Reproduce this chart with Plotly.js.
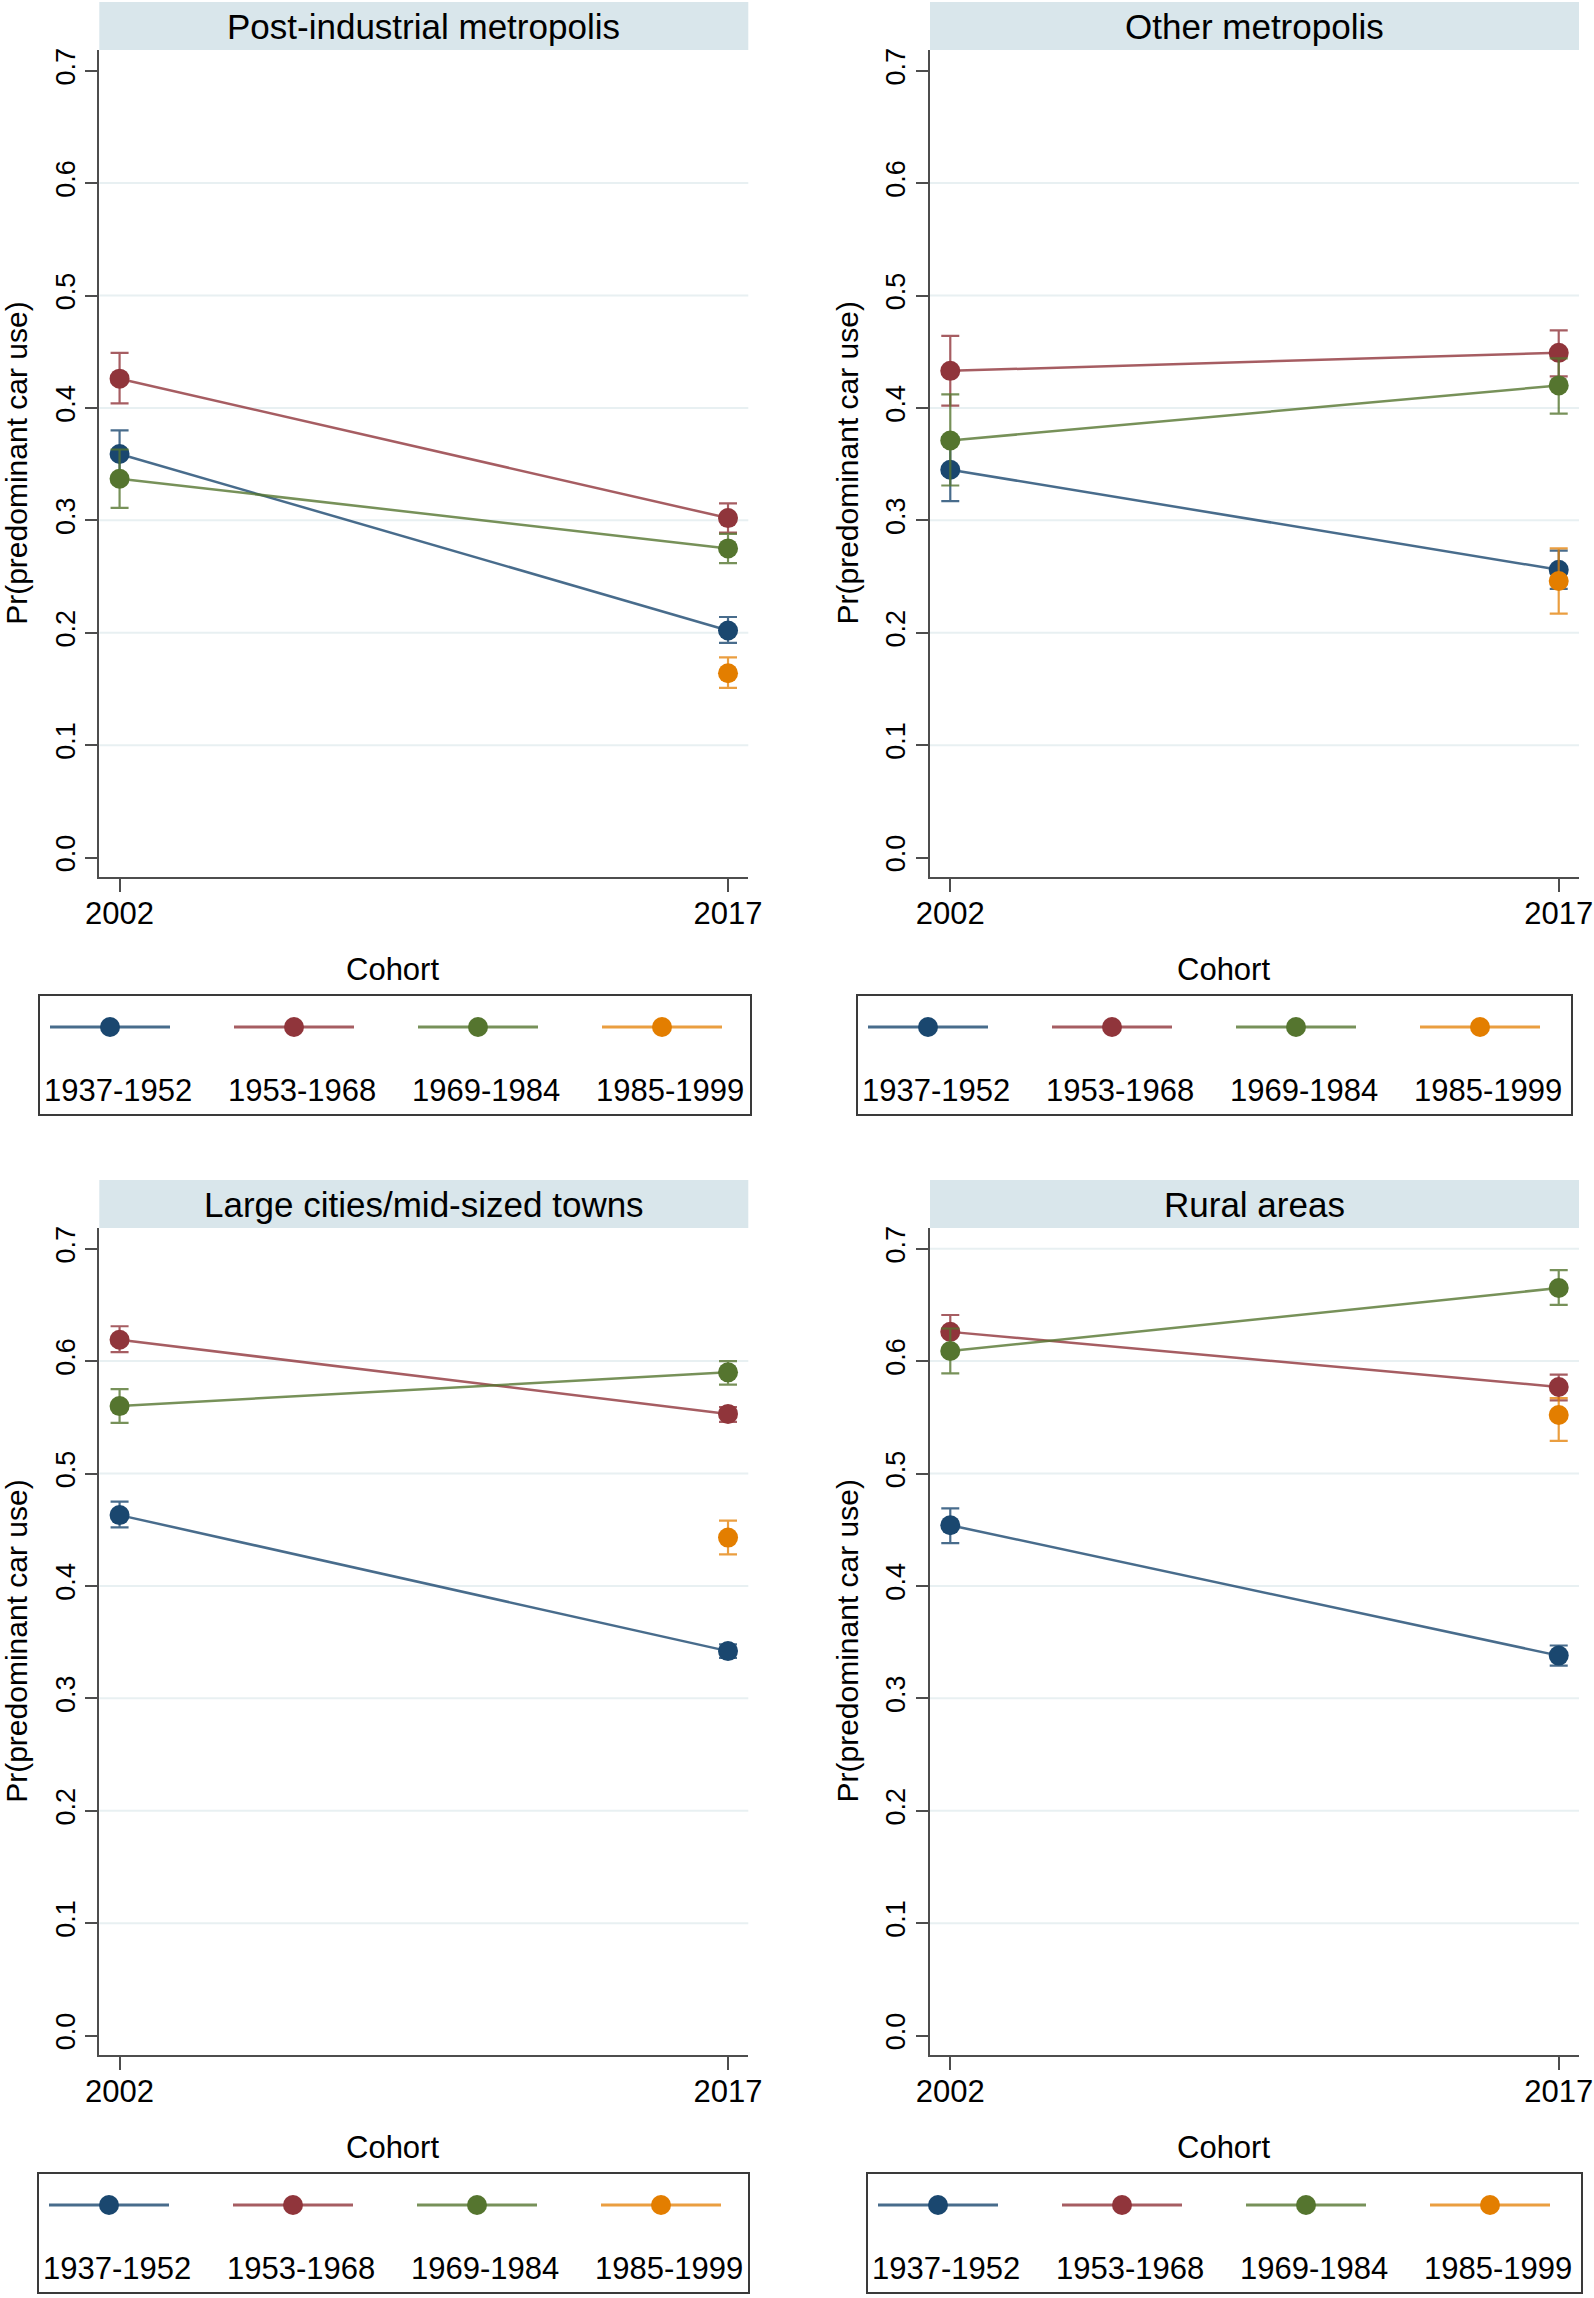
<!DOCTYPE html>
<html>
<head>
<meta charset="utf-8">
<script src="https://cdn.plot.ly/plotly-3.0.1.min.js"></script>
<style>html,body{margin:0;padding:0;background:#fff;}#chart{width:1594px;height:2298px;}</style>
</head>
<body>
<div id="chart"></div>
<script>
// ---------- DATA ----------
const years = [2002, 2017];
const yTickValues = [0, 0.1, 0.2, 0.3, 0.4, 0.5, 0.6, 0.7];
const cohortLabels = ['1937-1952', '1953-1968', '1969-1984', '1985-1999'];
const panelTitles = ['Post-industrial metropolis', 'Other metropolis', 'Large cities/mid-sized towns', 'Rural areas'];
const xTitle = 'Cohort';
const yTitle = 'Pr(predominant car use)';

// estimates [cohort][year]
const postIndEst = [[0.359, 0.202], [0.426, 0.302], [0.337, 0.275], [null, 0.164]];
const postIndLo  = [[0.338, 0.191], [0.404, 0.289], [0.311, 0.262], [null, 0.151]];
const postIndHi  = [[0.380, 0.214], [0.449, 0.315], [0.363, 0.288], [null, 0.178]];

const otherMetEst = [[0.345, 0.256], [0.433, 0.449], [0.371, 0.420], [null, 0.246]];
const otherMetLo  = [[0.317, 0.239], [0.402, 0.428], [0.331, 0.395], [null, 0.217]];
const otherMetHi  = [[0.374, 0.273], [0.464, 0.469], [0.412, 0.444], [null, 0.275]];

const largeEst = [[0.463, 0.342], [0.619, 0.553], [0.560, 0.590], [null, 0.443]];
const largeLo  = [[0.452, 0.336], [0.608, 0.546], [0.545, 0.579], [null, 0.428]];
const largeHi  = [[0.475, 0.348], [0.631, 0.559], [0.575, 0.600], [null, 0.458]];

const ruralEst = [[0.454, 0.338], [0.626, 0.577], [0.609, 0.665], [null, 0.552]];
const ruralLo  = [[0.438, 0.329], [0.611, 0.565], [0.589, 0.650], [null, 0.529]];
const ruralHi  = [[0.469, 0.347], [0.641, 0.588], [0.629, 0.681], [null, 0.567]];

const gridStd = [0.1, 0.2, 0.3, 0.4, 0.5, 0.6];
const gridRural = [0.1, 0.2, 0.3, 0.4, 0.5, 0.6, 0.7];

// ---------- STYLE ----------
const W = 1594, H = 2298;
const FONT = 'Liberation Sans, Arial, Helvetica, sans-serif';
const markerColors = ['#1a476f', '#90353b', '#55752f', '#e37e00'];
const lineColors = ['rgba(26,71,111,0.8)', 'rgba(144,53,59,0.8)', 'rgba(85,117,47,0.8)', 'rgba(227,126,0,0.75)'];
const axisColor = '#4d4d4d';
const gridColor = '#e8f0f2';
const stripColor = '#d9e6eb';

const panelSeries = [
  {est: postIndEst, lo: postIndLo, hi: postIndHi, grid: gridStd},
  {est: otherMetEst, lo: otherMetLo, hi: otherMetHi, grid: gridStd},
  {est: largeEst, lo: largeLo, hi: largeHi, grid: gridStd},
  {est: ruralEst, lo: ruralLo, hi: ruralHi, grid: gridRural}
];

// geometry in pixels
const plotLeft = [99.3, 930, 99.3, 930];
const plotTop = [50, 50, 1228, 1228];
const plotW = 649, plotH = 827;
const legendBox = [[39, 751], [857, 1572], [38, 749], [867, 1582]];

const px = v => v / W;
const py = v => 1 - v / H;

const traces = [];
const shapes = [];
const annotations = [];
const layout = {
  width: W, height: H,
  margin: {l: 0, r: 0, t: 0, b: 0},
  paper_bgcolor: '#fff', plot_bgcolor: '#fff',
  showlegend: false,
  font: {family: FONT, color: '#000'}
};

panelSeries.forEach((p, i) => {
  const s = i === 0 ? '' : String(i + 1);
  const L = plotLeft[i], T = plotTop[i];
  layout['xaxis' + s] = {
    domain: [px(L), px(L + plotW)],
    range: [2001.5, 2017.5],
    anchor: 'y' + s,
    tickvals: years, ticktext: years.map(String),
    showline: true, linecolor: axisColor, linewidth: 2,
    ticks: 'outside', ticklen: 13, tickwidth: 2, tickcolor: axisColor,
    ticklabelstandoff: -5,
    showgrid: false, zeroline: false,
    tickfont: {family: FONT, size: 31, color: '#000'},
    fixedrange: true
  };
  layout['yaxis' + s] = {
    domain: [py(T + plotH), py(T)],
    range: [-0.0173, 0.7184],
    anchor: 'x' + s,
    tickvals: yTickValues, tickformat: '.1f', tickangle: -90,
    showline: true, linecolor: axisColor, linewidth: 2,
    ticks: 'outside', ticklen: 12, tickwidth: 2, tickcolor: axisColor,
    showgrid: false, zeroline: false,
    tickfont: {family: FONT, size: 27, color: '#000'},
    fixedrange: true
  };
  // gridlines
  p.grid.forEach(g => shapes.push({
    type: 'line', layer: 'below',
    xref: 'x' + s + ' domain', x0: 0, x1: 1,
    yref: 'y' + s, y0: g, y1: g,
    line: {color: gridColor, width: 2}
  }));
  // strip header
  shapes.push({type: 'rect', xref: 'paper', yref: 'paper',
    x0: px(L), x1: px(L + plotW), y0: py(T), y1: py(T - 48),
    fillcolor: stripColor, line: {width: 0}, layer: 'below'});
  annotations.push({xref: 'paper', yref: 'paper', x: px(L + plotW / 2), y: py(T - 24),
    text: panelTitles[i], showarrow: false, xanchor: 'center', yanchor: 'middle',
    font: {family: FONT, size: 35, color: '#000'}});
  // axis titles
  annotations.push({xref: 'paper', yref: 'paper', x: px(L - 83), y: py(T + plotH / 2),
    text: yTitle, textangle: -90, showarrow: false, xanchor: 'center', yanchor: 'middle',
    font: {family: FONT, size: 30, color: '#000'}});
  annotations.push({xref: 'paper', yref: 'paper', x: px(L + plotW / 2 - 31), y: py(T + 919),
    text: xTitle, showarrow: false, xanchor: 'center', yanchor: 'middle',
    font: {family: FONT, size: 31, color: '#000'}});
  // data traces
  cohortLabels.forEach((c, k) => {
    const y = p.est[k];
    traces.push({
      type: 'scatter', mode: 'lines+markers',
      x: years, y: y, name: c,
      xaxis: 'x' + s, yaxis: 'y' + s,
      line: {color: lineColors[k], width: 2.5},
      marker: {color: markerColors[k], size: 20},
      error_y: {
        type: 'data', symmetric: false,
        array: y.map((v, j) => v == null ? null : p.hi[k][j] - v),
        arrayminus: y.map((v, j) => v == null ? null : v - p.lo[k][j]),
        color: lineColors[k], thickness: 2.2, width: 9
      },
      hoverinfo: 'skip'
    });
  });
  // legend box
  const [bl, br] = legendBox[i];
  const bt = T + 945, bb = T + 1065;
  shapes.push({type: 'rect', xref: 'paper', yref: 'paper',
    x0: px(bl), x1: px(br), y0: py(bb), y1: py(bt),
    line: {color: '#3a3a3a', width: 2}, fillcolor: 'rgba(0,0,0,0)'});
  cohortLabels.forEach((c, k) => {
    const mx = bl + 71 + 184 * k;
    const my = T + 977;
    shapes.push({type: 'line', xref: 'paper', yref: 'paper',
      x0: px(mx - 60), x1: px(mx + 60), y0: py(my), y1: py(my),
      line: {color: lineColors[k], width: 3}});
    shapes.push({type: 'circle', xref: 'paper', yref: 'paper',
      x0: px(mx - 10), x1: px(mx + 10), y0: py(my + 10), y1: py(my - 10),
      fillcolor: markerColors[k], line: {color: markerColors[k], width: 0}});
    annotations.push({xref: 'paper', yref: 'paper', x: px(mx + 8), y: py(T + 1040),
      text: c, showarrow: false, xanchor: 'center', yanchor: 'middle',
      font: {family: FONT, size: 31, color: '#000'}});
  });
});

layout.shapes = shapes;
layout.annotations = annotations;

Plotly.newPlot('chart', traces, layout, {staticPlot: true, displayModeBar: false});
</script>
</body>
</html>
